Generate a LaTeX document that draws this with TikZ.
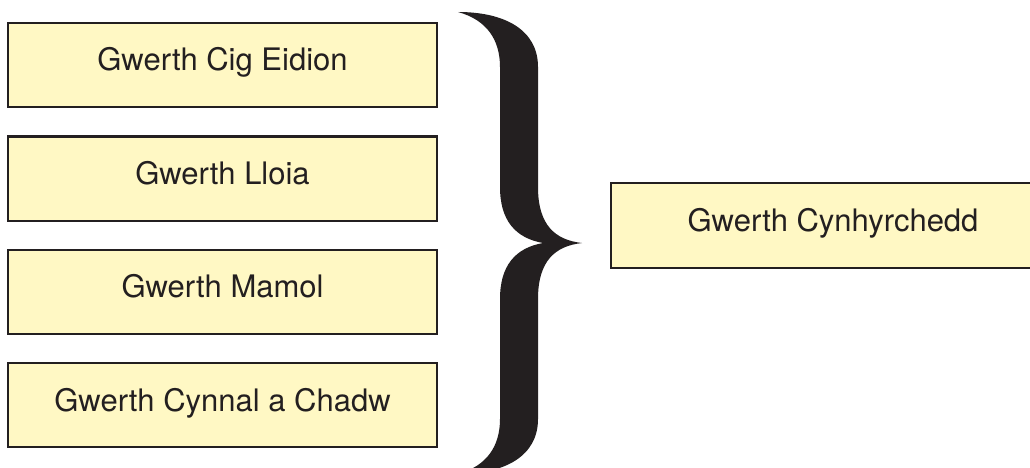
\documentclass[tikz,border=0pt]{standalone}
\usepackage{fontspec}
\setmainfont{TeX Gyre Heros}
\definecolor{boxfill}{HTML}{FFF8C4}
\definecolor{ink}{HTML}{231F20}
\begin{document}
\begin{tikzpicture}[x=1pt,y=-1pt,
  valbox/.style={draw=ink, line width=2pt, fill=boxfill, rectangle, inner sep=0pt,
    minimum width=429pt, minimum height=84pt, text height=22pt, text depth=10pt,
    font=\fontsize{31}{33}\selectfont, text=ink}]
\useasboundingbox (0,0) rectangle (1030,468);
\clip (0,0) rectangle (1030,468);
\fill[white] (0,0) rectangle (1030,468);
\node[valbox] (b1) at (222.5,65) {Gwerth Cig Eidion};
\node[valbox] (b2) at (222.5,178.5) {Gwerth Lloia};
\node[valbox] (b3) at (222.5,291.5) {Gwerth Mamol};
\node[valbox] (b4) at (222.5,405) {Gwerth Cynnal a Chadw};
\node[valbox, minimum width=444pt, minimum height=85pt] (r) at (833,225.5) {Gwerth Cynhyrchedd};
% brace
\fill[ink] (458,12) .. controls (505,12) and (538,30) .. (538,67)
  -- (538,187) .. controls (538,225) and (555,240) .. (582,243)
  .. controls (555,246) and (538,261) .. (538,299)
  -- (538,419) .. controls (538,456) and (505,474) .. (458,474)
  .. controls (487,466) and (500,446) .. (500,419)
  -- (500,299) .. controls (500,266) and (515,248) .. (543,243)
  .. controls (515,238) and (500,220) .. (500,187)
  -- (500,67) .. controls (500,40) and (487,20) .. (458,12) -- cycle;
\end{tikzpicture}
\end{document}
